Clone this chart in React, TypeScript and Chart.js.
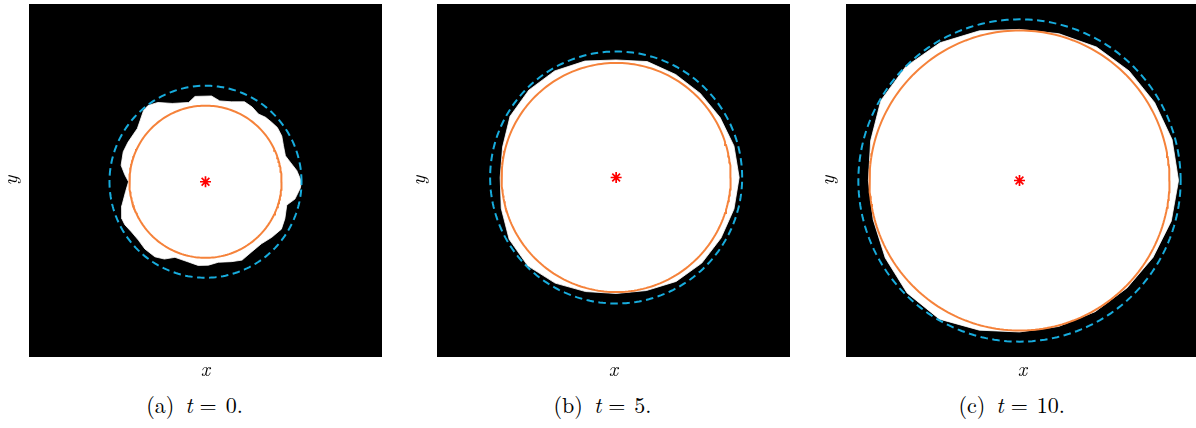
import React, { useEffect, useRef } from "react";
import { Chart, registerables } from "chart.js";

Chart.register(...registerables);

// ---------- data (domain is [-1, 1] x [-1, 1] per panel) ----------
const panelLetters = ["a", "b", "c"];
const timeLabels = ["0", "5", "10"];

// centre of the tracked region (red asterisk)
const centreX = [0.0, 0.015, -0.017];
const centreY = [-0.007, 0.017, 0.0];

// fitted circle (orange, solid) and reference circle (cyan, dashed) radii
const orangeRadius = [0.431, 0.649, 0.85];
const cyanRadius = [0.544, 0.714, 0.913];

// white region boundary, polar samples around the centre (angle in degrees, radius in domain units)
const blobAnglesA = [
  0, 7, 13, 18, 25, 31, 37, 42, 47, 52, 58, 64, 72, 80, 86, 97, 102, 113, 121, 127, 131, 137, 142, 153,
  160, 169, 175, 180, 187, 196, 204, 208, 214, 221, 228, 236, 242, 248, 258, 265, 272, 279, 288, 295,
  303, 312, 320, 328, 335, 344, 349, 356,
];
const blobRadiiA = [
  0.544, 0.521, 0.493, 0.476, 0.487, 0.504, 0.51, 0.504, 0.499, 0.487, 0.499, 0.504, 0.476, 0.465,
  0.487, 0.487, 0.459, 0.482, 0.524, 0.541, 0.535, 0.507, 0.49, 0.493, 0.496, 0.487, 0.459, 0.436,
  0.456, 0.493, 0.518, 0.518, 0.507, 0.504, 0.513, 0.513, 0.496, 0.462, 0.465, 0.476, 0.473, 0.462,
  0.476, 0.49, 0.476, 0.473, 0.49, 0.507, 0.496, 0.479, 0.516, 0.538,
];
const blobAnglesBC = [
  0, 15, 30, 45, 60, 75, 90, 105, 120, 135, 150, 165, 180, 195, 210, 225, 240, 255, 270, 285, 300, 315,
  330, 345,
];
const blobRadiiB = [
  0.697, 0.691, 0.68, 0.674, 0.674, 0.68, 0.666, 0.683, 0.697, 0.7, 0.694, 0.666, 0.657, 0.674, 0.7,
  0.708, 0.691, 0.669, 0.657, 0.663, 0.68, 0.686, 0.686, 0.691,
];
const blobRadiiC = [
  0.901, 0.895, 0.884, 0.878, 0.873, 0.861, 0.856, 0.878, 0.901, 0.912, 0.907, 0.873, 0.856, 0.858,
  0.878, 0.901, 0.907, 0.878, 0.858, 0.856, 0.858, 0.861, 0.873, 0.89,
];

const blobAngles = [blobAnglesA, blobAnglesBC, blobAnglesBC];
const blobRadii = [blobRadiiA, blobRadiiB, blobRadiiC];

// ---------- styling / layout ----------
const ORANGE = "#f5823a";
const CYAN = "#17acdd";
const LM = "Latin Modern Roman";
const CANVAS_W = 382;
const CANVAS_H = 384;
const canvasLefts = [0, 408, 817];
const captionCentres = [194.5, 602.5, 1011.7];

type Pt = { x: number; y: number };

function circlePoints(cx: number, cy: number, r: number): Pt[] {
  const pts: Pt[] = [];
  const n = 240;
  for (let i = 0; i <= n; i++) {
    const a = (i / n) * Math.PI * 2;
    pts.push({ x: cx + r * Math.cos(a), y: cy + r * Math.sin(a) });
  }
  return pts;
}

function blobPoints(cx: number, cy: number, angles: number[], radii: number[]): Pt[] {
  const pts: Pt[] = angles.map((deg, i) => {
    const a = (deg * Math.PI) / 180;
    return { x: cx + radii[i] * Math.cos(a), y: cy + radii[i] * Math.sin(a) };
  });
  pts.push({ ...pts[0] });
  return pts;
}

const blackArea = {
  id: "blackArea",
  beforeDraw(chart: any) {
    const { ctx, chartArea } = chart;
    if (!chartArea) return;
    ctx.save();
    ctx.fillStyle = "#000000";
    ctx.fillRect(chartArea.left, chartArea.top, chartArea.right - chartArea.left, chartArea.bottom - chartArea.top);
    ctx.restore();
  },
};

function Panel({ index }: { index: number }) {
  const ref = useRef<HTMLCanvasElement | null>(null);

  useEffect(() => {
    if (!ref.current) return;
    const cx = centreX[index];
    const cy = centreY[index];
    const chart = new Chart(ref.current, {
      type: "scatter",
      data: {
        datasets: [
          {
            label: "centre",
            data: [{ x: cx, y: cy }],
            pointStyle: "star",
            pointRadius: 5.5,
            pointBorderWidth: 1.7,
            borderColor: "#ff0000",
            backgroundColor: "#ff0000",
            showLine: false,
          },
          {
            label: "reference circle",
            data: circlePoints(cx, cy, cyanRadius[index]),
            showLine: true,
            borderColor: CYAN,
            borderWidth: 2,
            borderDash: [7.5, 4.5],
            pointRadius: 0,
            fill: false,
          },
          {
            label: "fitted circle",
            data: circlePoints(cx, cy, orangeRadius[index]),
            showLine: true,
            borderColor: ORANGE,
            borderWidth: 2,
            pointRadius: 0,
            fill: false,
          },
          {
            label: "region",
            data: blobPoints(cx, cy, blobAngles[index], blobRadii[index]),
            showLine: true,
            borderColor: "#ffffff",
            borderWidth: 0.8,
            backgroundColor: "#ffffff",
            pointRadius: 0,
            fill: "shape",
          } as any,
        ],
      },
      options: {
        animation: false,
        responsive: false,
        devicePixelRatio: 1,
        layout: { autoPadding: false, padding: { top: 4, left: 0, right: 0, bottom: 0 } },
        plugins: { legend: { display: false }, tooltip: { enabled: false } },
        events: [],
        scales: {
          x: {
            type: "linear",
            min: -1,
            max: 1,
            grid: { display: false, drawTicks: false },
            border: { display: false },
            ticks: { display: false },
            title: {
              display: true,
              text: "x",
              color: "#000",
              font: { family: LM, style: "italic", size: 20, lineHeight: 1 },
              padding: { top: 3, bottom: 4 },
            },
          },
          y: {
            type: "linear",
            min: -1,
            max: 1,
            grid: { display: false, drawTicks: false },
            border: { display: false },
            ticks: { display: false },
            title: {
              display: true,
              text: "y",
              color: "#000",
              font: { family: LM, style: "italic", size: 20, lineHeight: 1 },
              padding: { top: 1, bottom: 8 },
            },
          },
        },
      },
      plugins: [blackArea],
    } as any);
    return () => chart.destroy();
  }, [index]);

  return (
    <canvas
      ref={ref}
      width={CANVAS_W}
      height={CANVAS_H}
      style={{ position: "absolute", left: canvasLefts[index], top: 0, width: CANVAS_W, height: CANVAS_H }}
    />
  );
}

function Caption({ index }: { index: number }) {
  return (
    <div
      style={{
        position: "absolute",
        left: captionCentres[index] - 100,
        width: 200,
        top: 393,
        textAlign: "center",
        fontFamily: LM,
        fontSize: 22,
        lineHeight: "22px",
        color: "#000",
        whiteSpace: "nowrap",
      }}
    >
      <span>({panelLetters[index]})</span>
      <span style={{ fontStyle: "italic", marginLeft: 11 }}>t</span>
      <span style={{ marginLeft: 7, marginRight: 9 }}>=</span>
      <span>{timeLabels[index]}.</span>
    </div>
  );
}

export default function App() {
  return (
    <div
      style={{
        position: "absolute",
        left: 0,
        top: 0,
        width: 1196,
        height: 428,
        overflow: "hidden",
        background: "#ffffff",
      }}
    >
      {[0, 1, 2].map((i) => (
        <React.Fragment key={i}>
          <Panel index={i} />
          <Caption index={i} />
        </React.Fragment>
      ))}
    </div>
  );
}
